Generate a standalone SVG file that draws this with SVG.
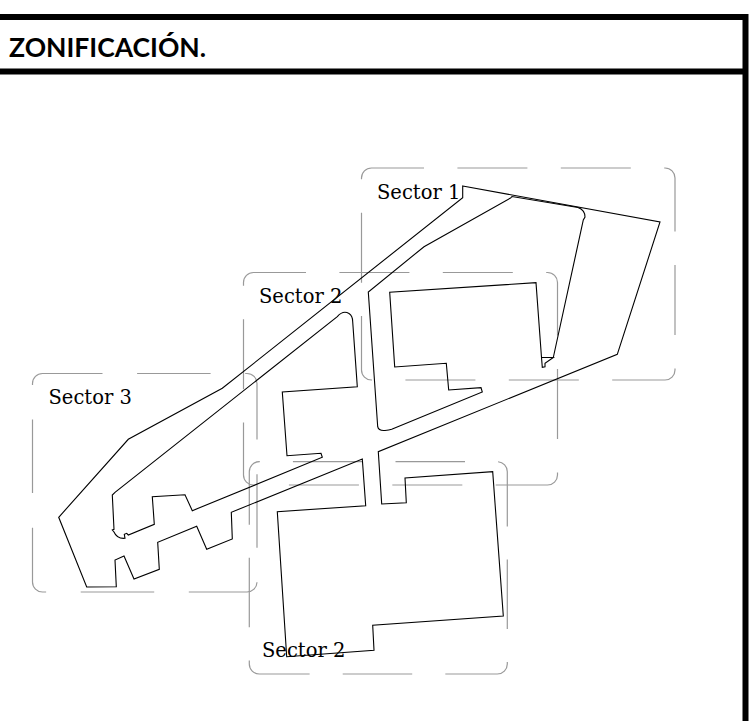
<svg xmlns="http://www.w3.org/2000/svg" width="754" height="721" viewBox="0 0 754 721">
<style>
.z{fill:none;stroke:#999;stroke-width:1.2}
.p{fill:none;stroke:#000;stroke-width:1.1;stroke-linejoin:miter}
.h{fill:none;stroke:#000;stroke-width:6}
.l{font-family:"DejaVu Serif",serif;font-size:19.5px;fill:#000}
.t{font-family:"Lato","Liberation Sans",sans-serif;font-size:26.5px;font-weight:700;fill:#000}
</style>
<rect width="754" height="721" fill="#fff"/>
<g id="frame">
<path class="h" d="M0,17H745.5V721"/>
<path class="h" d="M0,71.5H745.5"/>
<text class="t" x="9" y="57">ZONIFICACIÓN.</text>
</g>
<g id="sector-zones">
<rect class="z" x="361.5" y="168" width="313.5" height="212" rx="10" stroke-dasharray="70 33.4" stroke-dashoffset="17.5"/>
<rect class="z" x="243.5" y="272.5" width="314" height="212.5" rx="10" stroke-dasharray="70 33.4" stroke-dashoffset="17.5"/>
<rect class="z" x="32.5" y="373.5" width="224.5" height="218.5" rx="10" stroke-dasharray="73.5 34.6" stroke-dashoffset="13.5"/>
<rect class="z" x="249.3" y="461.7" width="258" height="212.3" rx="10" stroke-dasharray="69.5 33.1" stroke-dashoffset="69"/>
</g>
<g id="plan">
<path class="p" d="M462.7,186 L660,222 L617.3,354.3 L378.3,451.7 L381.7,504 L406.3,502.7 L405,478 L492.7,471.7 L503.3,616 L372.7,625.3 L374,650.3 L286.7,656.7 L277.3,511.7 L365.7,505.7 L362.3,459 L231.3,512.3 L232.3,539 L206.7,549.3 L196.7,526.3 L157.7,542.3 L159.3,569.3 L134,579 L124,556 L115,560 L116.3,586.7 L86.7,587 L58.7,517.3 L128.3,439.3 L222.3,388.3 L462.7,197.7 Z"/>
<path class="p" d="M511,197.7 L424,246.7 L368.3,292 L377.7,426.7 Q378.5,431 385,430.5 Q389,430.3 391.7,429.3 L482.3,392 L481,387.7 L448.7,390 L446.3,363.3 L394.7,367 L389.7,292.3 L536,282.7 L541.5,357.5 L542.3,367.3 L545,366.7 L545,363.3 L553.3,357.5 L541.5,357.5 M553.3,357.5 L583.3,220 L585,217 Q585,210 578,207.5 L512,196.5 L511,197.7"/>
<path class="p" d="M337.3,316.7 Q343,310 349,313.5 Q352.7,316 352.7,321.7 L357.3,386.7 L282.3,392 L287,455.7 L321,453.3 L322.3,457.3 L192.3,510.7 L185,494.7 L152.3,496.7 L154.3,524.3 L128.3,535 L126.7,533.3 L124.3,534.3 L125,538.3 Q117,539 114,532 L112.3,530 L114,529.3 L112.3,495 L115,492.3 Z"/>
</g>
<g id="labels">
<text class="l" x="377" y="199">Sector 1</text>
<text class="l" x="259" y="303">Sector 2</text>
<text class="l" x="48.5" y="404">Sector 3</text>
<text class="l" x="262" y="657">Sector 2</text>
</g>
</svg>
